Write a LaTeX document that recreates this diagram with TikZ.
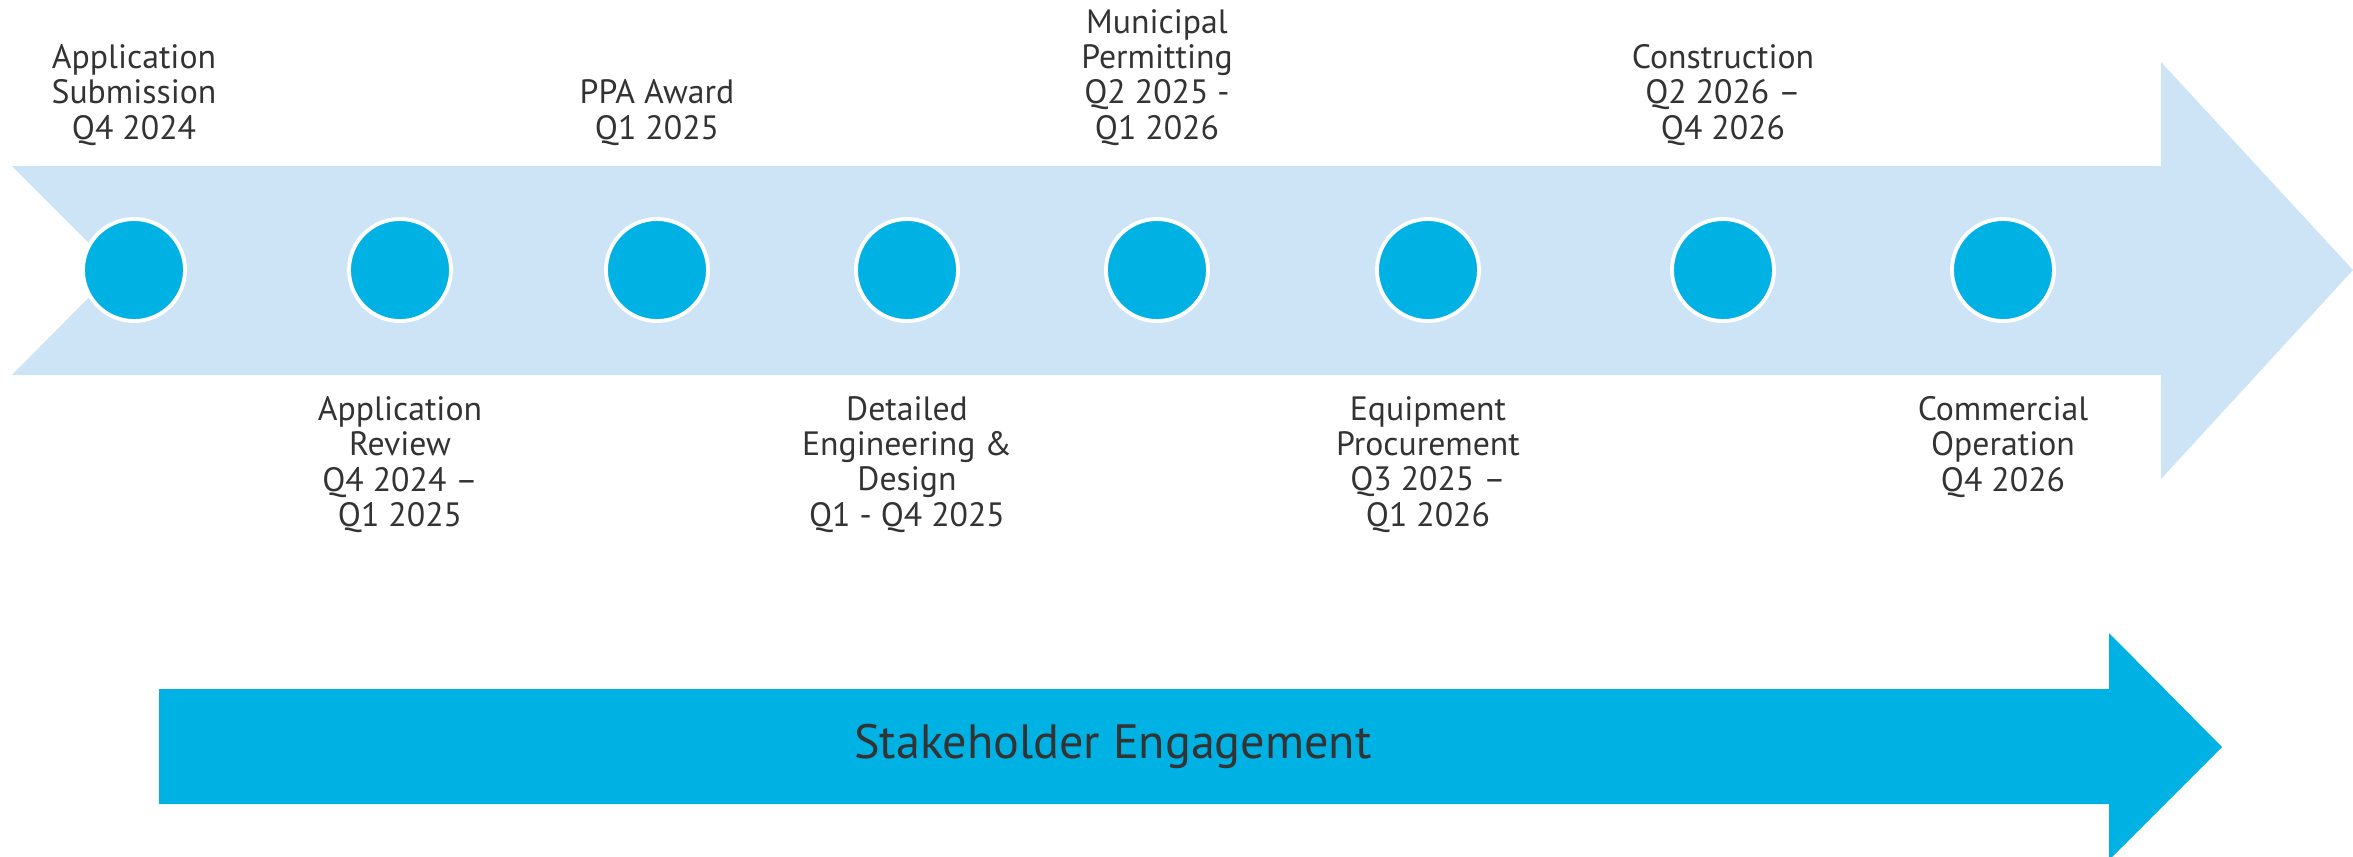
\documentclass[tikz,border=0pt]{standalone}
\usepackage{fontspec}
\setmainfont{PT Sans}
\usetikzlibrary{calc}
\definecolor{bandblue}{HTML}{CCE4F5}
\definecolor{dotblue}{HTML}{00B1E4}
\definecolor{textgray}{HTML}{333333}

\begin{document}
\begin{tikzpicture}[x=0.01cm,y=-0.01cm,
    milestone/.style={circle,fill=dotblue,draw=white,line width=1.1pt,
      minimum size=1.02cm,inner sep=0pt},
    toplabel/.style={anchor=south,align=center,inner sep=0pt,text=textgray,
      font=\fontsize{9.6}{10}\selectfont},
    botlabel/.style={anchor=north,align=center,inner sep=0pt,text=textgray,
      font=\fontsize{9.6}{10}\selectfont}]
                \useasboundingbox (0,0) rectangle (2353,856);
                % timeline band
                \fill[bandblue](12,166)--(2161,166)--(2161,62)--(2353,270)
                    --(2161,479)--(2161,375)--(12,375)--(116,270)--cycle;
                % stakeholder band
                \fill[dotblue](159,689)--(2109,689)--(2109,633)--(2222,747)
                    --(2109,860)--(2109,804)--(159,804)--cycle;
                \node[text=textgray,font=\fontsize{13.7}{15}\selectfont](stake)at(1113,746){Stakeholder Engagement};
                % milestones
                \node[milestone](m1)at(134,270){};
                \node[milestone](m2)at(400,270){};
                \node[milestone](m3)at(657,270){};
                \node[milestone](m4)at(907,270){};
                \node[milestone](m5)at(1157,270){};
                \node[milestone](m6)at(1428,270){};
                \node[milestone](m7)at(1723,270){};
                \node[milestone](m8)at(2003,270){};
                \node[toplabel](l1)at(m1|-0,146){Application\\Submission\\Q4 2024};
                \node[botlabel](l2)at(m2|-0,396){Application\\Review\\Q4 2024 –\\Q1 2025};
                \node[toplabel](l3)at(m3|-0,146){PPA Award\\Q1 2025};
                \node[botlabel](l4)at(m4|-0,396){Detailed\\Engineering \&\\Design\\Q1 - Q4 2025};
                \node[toplabel](l5)at(m5|-0,146){Municipal\\Permitting\\Q2 2025 -\\Q1 2026};
                \node[botlabel](l6)at(m6|-0,396){Equipment\\Procurement\\Q3 2025 –\\Q1 2026};
                \node[toplabel](l7)at(m7|-0,146){Construction\\Q2 2026 –\\Q4 2026};
                \node[botlabel](l8)at(m8|-0,396){Commercial\\Operation\\Q4 2026};
            \end{tikzpicture}
\end{document}
